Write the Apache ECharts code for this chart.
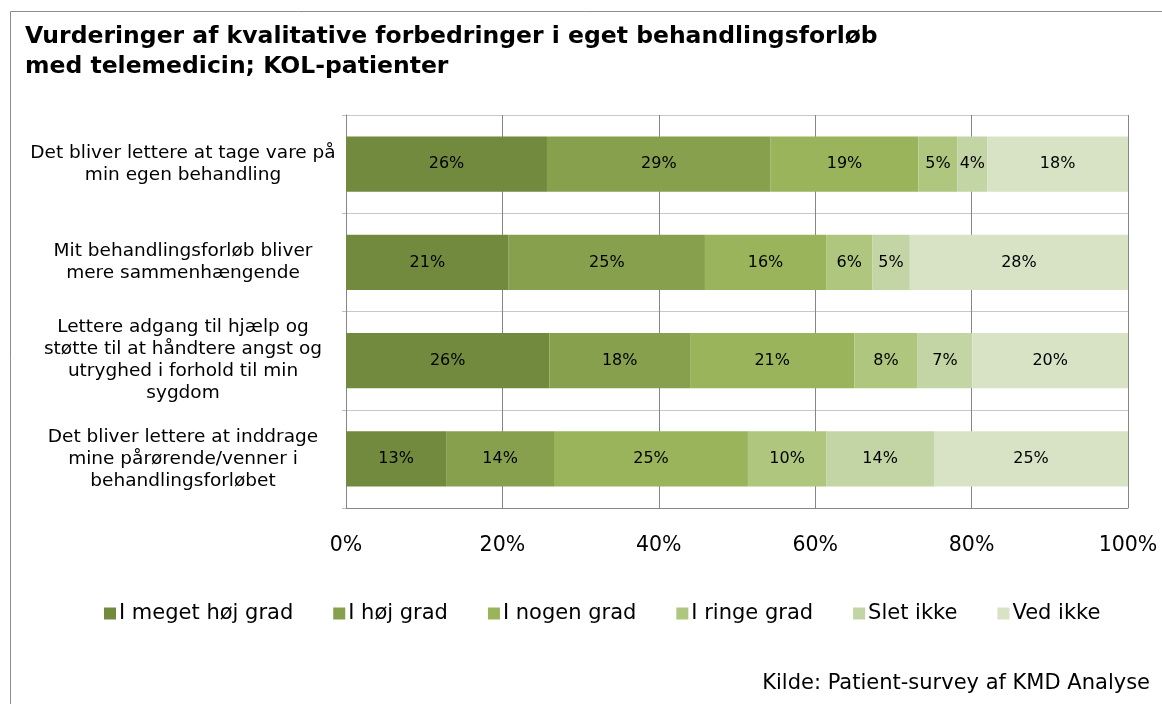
<!DOCTYPE html>
<html>
<head>
<meta charset="utf-8">
<script src="https://cdn.jsdelivr.net/npm/echarts@6/dist/echarts.min.js"></script>
<style>
html, body { margin: 0; padding: 0; background: #fff; }
#chart_div { width: 1162px; height: 704px; }
</style>
</head>
<body>
<div id="chart_div"></div>
<script>
// spørgsmål (y-akse), øverst først
var categories = [
	'Det bliver lettere at tage vare på\nmin egen behandling',
	'Mit behandlingsforløb bliver\nmere sammenhængende',
	'Lettere adgang til hjælp og\nstøtte til at håndtere angst og\nutryghed i forhold til min\nsygdom',
	'Det bliver lettere at inddrage\nmine pårørende/venner i\nbehandlingsforløbet'
];
var seriesNames = ['I meget høj grad', 'I høj grad', 'I nogen grad', 'I ringe grad', 'Slet ikke', 'Ved ikke'];
var colorList = ['#728a3e', '#87a04d', '#99b45a', '#aec67e', '#c3d4a5', '#d8e3c6'];

// andele i procent, en liste pr. svarkategori
var megetHoj = [25.7, 20.8, 26.0, 12.8];
var hoj      = [28.6, 25.1, 18.0, 13.8];
var nogen    = [18.9, 15.5, 21.0, 24.8];
var ringe    = [5.0, 5.9, 8.1, 10.0];
var sletIkke = [3.8, 4.8, 7.0, 13.8];
var vedIkke  = [18.0, 27.9, 19.9, 24.8];
var valueList = [megetHoj, hoj, nogen, ringe, sletIkke, vedIkke];

var axisTicks = [0, 20, 40, 60, 80, 100];

var chart = echarts.init(document.getElementById('chart_div'));

function buildSeries(){
	var list = [];
	for (var i = 0; i < seriesNames.length; i++) {
		list.push({
			name: seriesNames[i],
			type: 'bar',
			stack: 'total',
			barWidth: '56%',
			data: valueList[i],
			itemStyle: { color: colorList[i] },
			label: {
				show: true,
				position: 'inside',
				color: '#000',
				fontFamily: 'DejaVu Sans',
				fontSize: 16,
				formatter: function(p){ return Math.round(p.value) + '%'; }
			}
		});
	}
	return list;
}

var option = {
	animation: false,
	textStyle: { fontFamily: 'DejaVu Sans' },
	title: [{
		text: 'Vurderinger af kvalitative forbedringer i eget behandlingsforløb\nmed telemedicin; KOL-patienter',
		left: 20,
		top: 17,
		textStyle: { fontFamily: 'DejaVu Sans', fontSize: 23.5, fontWeight: 'bold', color: '#000', lineHeight: 30 }
	}, {
		text: 'Kilde: Patient-survey af KMD Analyse',
		right: 7,
		top: 668,
		textStyle: { fontFamily: 'DejaVu Sans', fontSize: 21, fontWeight: 'normal', color: '#000' }
	}],
	legend: {
		data: seriesNames,
		left: 99,
		top: 598,
		icon: 'rect',
		itemWidth: 12,
		itemHeight: 12,
		itemGap: 40,
		textStyle: { fontFamily: 'DejaVu Sans', fontSize: 21, color: '#000', padding: [0, 0, 0, -2] }
	},
	grid: { left: 346, right: 34, top: 115, bottom: 196 },
	xAxis: {
		type: 'value',
		min: axisTicks[0],
		max: axisTicks[axisTicks.length - 1],
		interval: axisTicks[1] - axisTicks[0],
		axisLine: { show: true, lineStyle: { color: '#868686' } },
		axisTick: { show: false },
		axisLabel: { formatter: '{value}%', color: '#000', fontSize: 20.5, margin: 27 },
		splitLine: { show: true, lineStyle: { color: '#868686', width: 1 } }
	},
	yAxis: {
		type: 'category',
		inverse: true,
		data: categories,
		axisLine: { show: true, lineStyle: { color: '#868686' } },
		axisTick: { show: true, length: 4, lineStyle: { color: '#bfbfbf' } },
		axisLabel: { color: '#000', fontSize: 18.5, lineHeight: 22, align: 'center', margin: 163 },
		splitLine: { show: true, lineStyle: { color: '#c8c8c8' } }
	},
	graphic: [{
		type: 'rect',
		shape: { x: 10.5, y: 11.5, width: 1200, height: 800 },
		style: { fill: 'none', stroke: '#8c8c8c', lineWidth: 1 },
		silent: true
	}],
	series: buildSeries()
};

chart.setOption(option);
</script>
</body>
</html>
